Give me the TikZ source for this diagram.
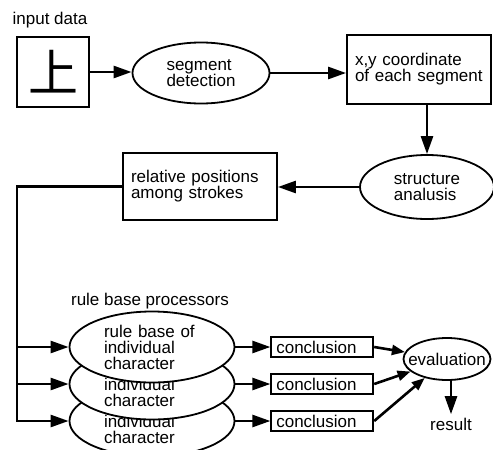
\documentclass[tikz,border=0pt]{standalone}
\usepackage{fontspec}
\setmainfont{Liberation Sans}
\newfontfamily\cjk{Noto Sans CJK SC}
\usetikzlibrary{arrows.meta,positioning,shapes.geometric}

\begin{document}
\begin{tikzpicture}[x=1pt,y=-1pt,font=\fontsize{17}{16}\selectfont,>={Triangle[length=18pt,width=12pt]},node distance=35pt]
  \tikzset{block/.style={draw,line width=1.8pt,align=left,inner xsep=8pt,inner ysep=0pt},
    proc/.style={draw,ellipse,line width=1.8pt,fill=white,align=left,inner sep=0pt},
    rulebase/.style={proc,text width=96pt,minimum width=165pt,minimum height=71pt},
    concl/.style={draw,line width=1.8pt,fill=white,minimum height=20pt,text width=92pt,inner xsep=5pt,inner ysep=0pt,align=left}}
  \useasboundingbox (0,0) rectangle (493,450);
  \node (inlabel) at (50,20) {input data};
  \node[draw,line width=1.8pt,minimum width=72pt,minimum height=70pt,inner sep=0pt] (input) at (53,72) {\cjk\fontsize{50}{50}\selectfont 上};
  \node[proc,minimum width=137pt,minimum height=61pt] (seg) at (201,73) {segment\\detection};
  \node[block,text width=128pt,minimum height=69pt] (coord) at (419,69.5) {x,y coordinate\\of each segment};
  \node[proc,minimum width=134pt,minimum height=64pt] (struct) at (427,187) {structure\\analusis};
  \node[block,text width=138pt,minimum height=67pt] (rel) at (200,186.5) {relative positions\\among strokes};
  \node (rblabel) at (150,301) {rule base processors};
  \node[rulebase] (rb3) at (152,421) {\vphantom{l}\\individual\\character};
  \node[rulebase] (rb2) at (152,384) {\vphantom{l}\\individual\\character};
  \node[rulebase] (rb1) at (152,347) {rule base of\\individual\\character};
  \node[concl,right=of rb1] (con1) {conclusion};
  \node[concl,right=of rb2] (con2) {conclusion};
  \node[concl,right=of rb3] (con3) {conclusion};
  \node[proc,inner xsep=-8pt,minimum height=42pt] (eval) at (447,359) {evaluation};
  \node (result) at (451,424) {result};
  \coordinate (bus) at (17,421);
  \draw[->,line width=2.6pt] (input.east) -- (input.east -| seg.west);
  \draw[->,line width=2.6pt] (seg.east) -- (seg.east -| coord.west);
  \draw[->,line width=2.6pt] (coord.south -| struct.north) -- (struct.north);
  \draw[->,line width=2.6pt] (struct.west) -- (struct.west -| rel.east);
  \draw[->,line width=2.6pt] (rel.west) -| (bus) -- (rb3.west);
  \draw[->,line width=2.6pt] (bus |- rb2.west) -- (rb2.west);
  \draw[->,line width=2.6pt] (bus |- rb1.west) -- (rb1.west);
  \foreach \i in {1,2,3}
    \draw[->,line width=2.6pt] (rb\i.east) -- (con\i.west);
  \foreach \i in {1,2,3}
    \draw[-{Triangle[length=13pt,width=10pt]},line width=2.6pt] (con\i.east) -- (eval);
  \draw[->,line width=2.6pt] (eval.south -| result.north) -- (result.north);
\end{tikzpicture}
\end{document}
